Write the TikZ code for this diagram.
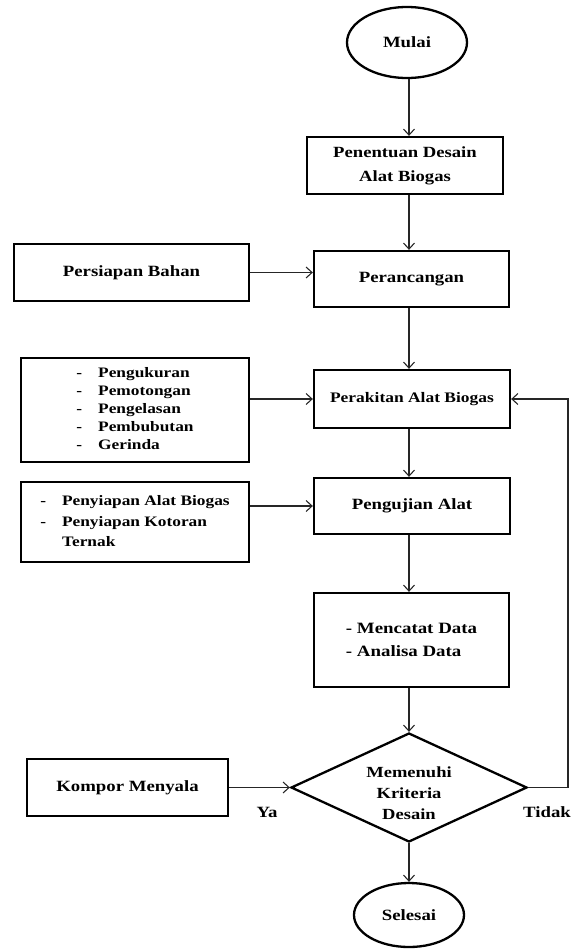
\documentclass[tikz,border=0pt]{standalone}
\usepackage{fontspec}
\setmainfont{Liberation Serif}[FakeStretch=1.2]
\usetikzlibrary{shapes.geometric,arrows.meta}
\begin{document}
\begin{tikzpicture}[x=1bp,y=-1bp,
  every node/.style={font=\bfseries\fontsize{15.7}{22}\selectfont, inner sep=0pt, text=black},
  box/.style={draw, rectangle, line width=2.3bp, fill=white},
  term/.style={draw, ellipse, line width=2.3bp, fill=white},
  decision/.style={draw, diamond, line width=2.3bp, fill=white},
  arr/.style={draw=black!85, line width=1.1bp, -{Straight Barb[length=6bp,width=11bp]}},
  listfont/.style={font=\bfseries\fontsize{14.5}{18}\selectfont},
  listfontb/.style={font=\bfseries\fontsize{14.5}{20.8}\selectfont}]
\useasboundingbox (0,0) rectangle (573,949);
\coordinate (col) at (409,0);
\coordinate (loop) at (568,0);

\node[term, minimum width=120bp, minimum height=71bp] (mulai) at (407,42.5) {Mulai};
\node[box, minimum width=196bp, minimum height=57bp, align=center,
      font=\bfseries\fontsize{15.6}{24}\selectfont] (penentuan) at (405,165.5) {Penentuan Desain\\Alat Biogas};
\node[box, minimum width=235bp, minimum height=57bp] (persiapan) at (131.5,272.5) {Persiapan Bahan};
\node[box, minimum width=195bp, minimum height=56bp] (perancangan) at (411.5,279) {Perancangan};
\node[box, minimum width=228bp, minimum height=104bp, listfont] (proses) at (135,410)
  {\begin{tabular}{@{}l@{\hspace{16bp}}l@{}}-&Pengukuran\\-&Pemotongan\\-&Pengelasan\\-&Pembubutan\\-&Gerinda\end{tabular}};
\node[box, minimum width=196bp, minimum height=58bp, font=\bfseries\fontsize{14.6}{18}\selectfont] (perakitan) at (412,399) {Perakitan Alat Biogas};
\node[box, minimum width=196bp, minimum height=56bp] (pengujian) at (412,506) {Pengujian Alat};
\node[box, minimum width=228bp, minimum height=80bp, listfontb] (siap) at (135,522)
  {\begin{tabular}{@{}l@{\hspace{16bp}}l@{}}-&Penyiapan Alat Biogas\\-&Penyiapan Kotoran\\&Ternak\end{tabular}};
\node[box, minimum width=195bp, minimum height=94bp, align=left,
      font=\bfseries\fontsize{15.8}{22.7}\selectfont] (catat) at (411.5,640) {- Mencatat Data\\- Analisa Data};
\node[decision, minimum width=236bp, minimum height=109bp,
      label={[yshift=-5.5bp, align=center, font=\bfseries\fontsize{15.5}{21}\selectfont]center:{Memenuhi\\Kriteria\\Desain}}]
      (kriteria) at (409,787.5) {};
\node[box, minimum width=201bp, minimum height=57bp] (kompor) at (127.5,787.5) {Kompor Menyala};
\node (ya) at (267,812) {Ya};
\node (tidak) at (547,812) {Tidak};
\node[term, minimum width=110bp, minimum height=64bp] (selesai) at (409,915) {Selesai};

\draw[arr] (mulai.south -| col) -- (penentuan.north -| col);
\draw[arr] (penentuan.south -| col) -- (perancangan.north -| col);
\draw[arr] (perancangan.south -| col) -- (perakitan.north -| col);
\draw[arr] (perakitan.south -| col) -- (pengujian.north -| col);
\draw[arr] (pengujian.south -| col) -- (catat.north -| col);
\draw[arr] (catat.south -| col) -- (kriteria.north);
\draw[arr] (kriteria.south) -- (selesai.north);
\draw[arr] (persiapan.east) -- (persiapan.east -| perancangan.west);
\draw[arr] (perakitan.west -| proses.east) -- (perakitan.west);
\draw[arr] (pengujian.west -| siap.east) -- (pengujian.west);
\draw[arr] (kompor.east) -- (kriteria.west);
\draw[arr] (kriteria.east) -- (kriteria.east -| loop) -- (perakitan.east -| loop) -- (perakitan.east);
\end{tikzpicture}
\end{document}
